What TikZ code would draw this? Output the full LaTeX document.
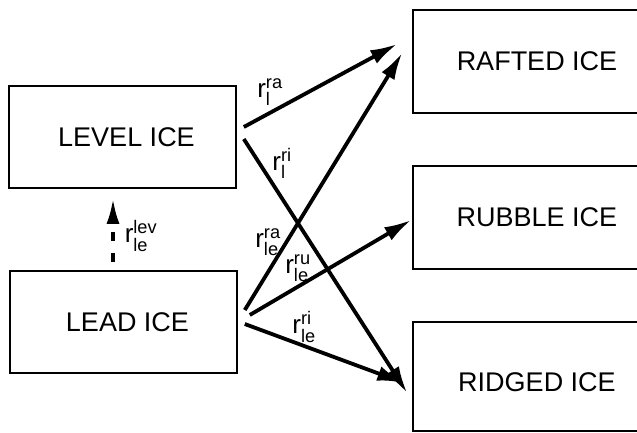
\documentclass[tikz,border=0pt]{standalone}
\usepackage{amsmath}
\usepackage{fontspec}
\setmainfont{Liberation Sans}
\usetikzlibrary{arrows.meta,calc}
\newcommand\rlab[2]{$\text{r}^{\text{#1}}_{\text{#2}}$}
\tikzset{
  box/.style={draw, line width=1.6pt, minimum width=227pt, minimum height=102pt, inner sep=0pt,
              font=\fontsize{27}{27}\selectfont},
  rbox/.style={box, minimum width=248pt, minimum height=103pt},
  flow/.style={line width=3.8pt, -{Latex[length=27pt,width=15pt]}},
  dflow/.style={line width=3.2pt, dash pattern=on 9pt off 12pt, -{Latex[length=25pt,width=13pt]}},
  lab/.style={inner sep=0pt, font=\fontsize{26}{26}\selectfont}
}
\begin{document}
\begin{tikzpicture}[x=1pt,y=-1pt]
\useasboundingbox (0,0) rectangle (637,432);
\clip (0,0) rectangle (637,432);
\node[box] (level) at (122.5,137) {\hspace*{8pt}LEVEL ICE};
\node[box] (lead) at (123.5,322) {\hspace*{8pt}LEAD ICE};
\node[rbox] (rafted) at (537,61.5) {RAFTED ICE};
\node[rbox] (rubble) at (537,217.5) {RUBBLE ICE};
\node[rbox, minimum height=109pt] (ridged) at (537,376.5) {\raisebox{-6pt}[\height][\depth]{RIDGED ICE}};

\draw[flow] ([xshift=7pt,yshift=10pt]level.east) -- ([xshift=-15pt,yshift=17.5pt]rafted.west);
\draw[flow] ([xshift=7pt,yshift=-2pt]level.east) -- ([xshift=-5pt,yshift=-16.5pt]ridged.west);
\draw[flow] ([xshift=7pt,yshift=12pt]lead.east) -- ([xshift=-10pt,yshift=8.5pt]rafted.west);
\draw[flow] ([xshift=12pt,yshift=7pt]lead.east) -- ([xshift=-1pt,yshift=-2.5pt]rubble.west);
\draw[flow] ([xshift=7pt,yshift=-2pt]lead.east) -- ([xshift=-8pt,yshift=-6.5pt]ridged.west);
\draw[dflow] ([xshift=-10.5pt,yshift=8pt]lead.north) -- ([xshift=-9.5pt,yshift=-10pt]level.south);

\node[lab] (l1) at (270,92) {\rlab{ra}{l}};
\node[lab] (l2) at (282,163) {\rlab{ri}{l}};
\node[lab] (l3) at (141,236) {\rlab{lev}{le}};
\node[lab] (l4) at (268,242) {\rlab{ra}{le}};
\node[lab] (l5) at (298,268) {\rlab{ru}{le}};
\node[lab] (l6) at (304,327) {\rlab{ri}{le}};
\end{tikzpicture}
\end{document}
